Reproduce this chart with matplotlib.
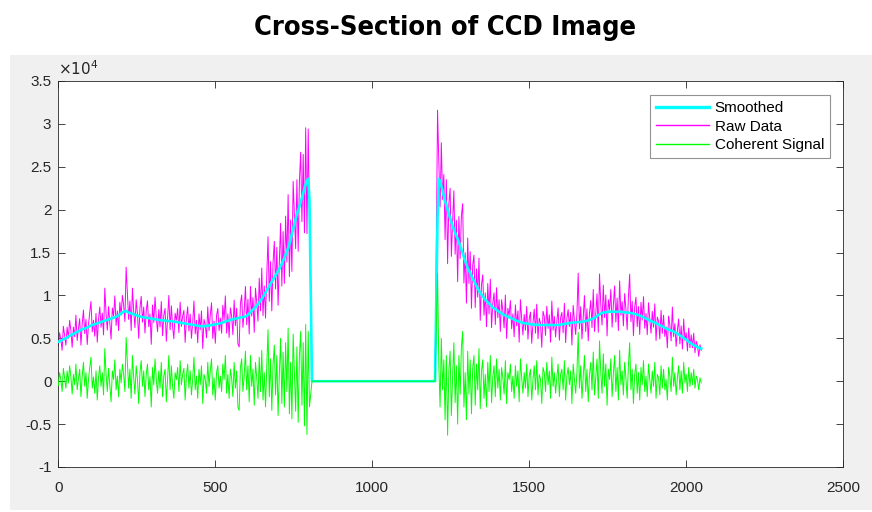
# Corte transversal de una imagen CCD
# Datos leidos a ojo del grafico original (unidades de 1e4 cuentas)

import numpy as np
import matplotlib
matplotlib.use('Agg')  # Sin ventanas
import matplotlib.pyplot as plt
from matplotlib.patches import Rectangle


COLORES = {
    'suavizado': '#00FFFF',   # Cian
    'crudo': '#FF00FF',       # Magenta
    'coherente': '#00FF00',   # Verde
    'texto': '#262626',
    'fondo': '#F0F0F0',
}

# Posiciones de pixel del sensor
muestras_izq = np.arange(0, 801, 4)
muestras_hueco = [808, 1200]
muestras_der = np.arange(1208, 2049, 4)

# Curva suavizada, lado izquierdo (x = 0..800)
suavizado_izq = [
    0.46, 0.465, 0.47, 0.48, 0.49, 0.495, 0.50, 0.51, 0.52, 0.53,
    0.54, 0.545, 0.55, 0.56, 0.57, 0.575, 0.58, 0.59, 0.60, 0.605,
    0.61, 0.615, 0.62, 0.628, 0.635, 0.642, 0.65, 0.655, 0.66, 0.665,
    0.67, 0.675, 0.68, 0.685, 0.69, 0.695, 0.70, 0.705, 0.71, 0.715,
    0.72, 0.725, 0.73, 0.735, 0.74, 0.745, 0.75, 0.76, 0.77, 0.78,
    0.79, 0.80, 0.81, 0.815, 0.82, 0.81, 0.80, 0.795, 0.79, 0.785,
    0.78, 0.775, 0.77, 0.765, 0.76, 0.755, 0.75, 0.748, 0.745, 0.742,
    0.74, 0.738, 0.735, 0.732, 0.73, 0.728, 0.725, 0.722, 0.72, 0.718,
    0.715, 0.712, 0.71, 0.71, 0.71, 0.708, 0.705, 0.702, 0.70, 0.70,
    0.70, 0.698, 0.695, 0.692, 0.69, 0.688, 0.685, 0.682, 0.68, 0.678,
    0.675, 0.672, 0.67, 0.668, 0.665, 0.662, 0.66, 0.658, 0.655, 0.652,
    0.65, 0.648, 0.645, 0.642, 0.64, 0.64, 0.64, 0.642, 0.645, 0.648,
    0.65, 0.652, 0.655, 0.658, 0.66, 0.662, 0.665, 0.668, 0.67, 0.675,
    0.68, 0.685, 0.69, 0.695, 0.70, 0.705, 0.71, 0.715, 0.72, 0.722,
    0.725, 0.728, 0.73, 0.735, 0.74, 0.742, 0.745, 0.748, 0.75, 0.755,
    0.76, 0.775, 0.79, 0.805, 0.82, 0.835, 0.85, 0.865, 0.88, 0.90,
    0.92, 0.94, 0.96, 0.985, 1.01, 1.035, 1.06, 1.085, 1.11, 1.135,
    1.16, 1.185, 1.21, 1.235, 1.26, 1.285, 1.31, 1.34, 1.37, 1.405,
    1.44, 1.475, 1.51, 1.555, 1.60, 1.66, 1.72, 1.78, 1.84, 1.895,
    1.95, 1.995, 2.04, 2.09, 2.14, 2.195, 2.25, 2.295, 2.34, 2.36,
    2.12,
]

# Senal coherente (verde), lado izquierdo
coherente_izq = [
    -0.05, 0.10, 0.02, -0.12, 0.15, 0.04, -0.08, 0.12, -0.02, 0.18,
    0.05, -0.15, 0.08, -0.04, 0.20, -0.10, 0.03, 0.14, -0.18, 0.06,
    0.22, -0.06, 0.10, -0.20, 0.02, 0.16, 0.28, -0.08, 0.05, -0.14,
    0.12, -0.22, 0.04, 0.18, -0.06, 0.10, -0.16, 0.38, 0.08, -0.12,
    0.15, -0.05, -0.24, 0.12, 0.02, 0.25, -0.10, 0.06, -0.18, 0.14,
    -0.02, 0.20, 0.08, -0.12, 0.51, 0.22, -0.08, 0.14, -0.20, 0.30,
    0.04, -0.15, 0.18, 0.02, -0.26, 0.10, 0.24, -0.06, 0.12, -0.18,
    0.08, 0.20, -0.10, 0.05, -0.30, 0.16, -0.04, 0.26, 0.02, -0.14,
    0.12, -0.08, 0.22, -0.18, 0.06, 0.14, -0.24, 0.04, 0.30, -0.10,
    0.18, -0.06, -0.20, 0.10, 0.02, 0.16, -0.12, 0.24, -0.04, 0.08,
    0.15, -0.22, 0.06, 0.20, -0.08, 0.12, -0.16, 0.02, 0.28, -0.10,
    0.06, -0.20, 0.14, -0.04, 0.18, -0.26, 0.08, 0.02, -0.14, 0.22,
    -0.06, 0.12, 0.26, -0.16, 0.04, -0.22, 0.10, 0.18, -0.08, 0.06,
    -0.12, 0.20, 0.02, 0.30, -0.14, 0.08, -0.20, 0.14, 0.04, -0.18,
    0.22, -0.08, 0.12, -0.30, -0.34, 0.16, 0.26, -0.12, 0.06, 0.35,
    -0.10, 0.18, -0.24, 0.30, -0.06, 0.14, -0.28, 0.22, 0.04, -0.20,
    0.28, -0.12, 0.36, -0.22, 0.10, -0.30, 0.18, 0.60, -0.18, 0.26,
    -0.34, 0.20, 0.42, -0.16, 0.30, -0.40, 0.08, 0.50, -0.26, 0.34,
    -0.30, 0.45, -0.12, 0.62, -0.38, 0.22, -0.44, 0.55, 0.10, -0.35,
    0.40, -0.48, 0.30, 0.58, -0.28, 0.45, -0.52, 0.66, -0.62, 0.58,
    -0.30,
]

# Zona tapada del sensor (todo a cero)
valores_hueco = [0.0, 0.0]

# Curva suavizada, lado derecho (x = 1208..2048)
suavizado_der = [
    1.90, 2.36, 2.33, 2.28, 2.22, 2.16, 2.10, 2.05, 2.00, 1.95,
    1.90, 1.855, 1.81, 1.77, 1.73, 1.695, 1.66, 1.62, 1.58, 1.535,
    1.49, 1.445, 1.40, 1.36, 1.32, 1.29, 1.26, 1.23, 1.20, 1.17,
    1.14, 1.11, 1.08, 1.055, 1.03, 1.01, 0.99, 0.97, 0.95, 0.935,
    0.92, 0.905, 0.89, 0.875, 0.86, 0.85, 0.84, 0.83, 0.82, 0.81,
    0.80, 0.79, 0.78, 0.772, 0.765, 0.758, 0.75, 0.745, 0.74, 0.732,
    0.725, 0.718, 0.71, 0.705, 0.70, 0.695, 0.69, 0.685, 0.68, 0.678,
    0.675, 0.672, 0.67, 0.668, 0.665, 0.662, 0.66, 0.66, 0.66, 0.658,
    0.655, 0.655, 0.655, 0.655, 0.655, 0.655, 0.655, 0.655, 0.655, 0.655,
    0.655, 0.655, 0.655, 0.655, 0.655, 0.655, 0.655, 0.658, 0.66, 0.662,
    0.665, 0.668, 0.67, 0.672, 0.675, 0.678, 0.68, 0.682, 0.685, 0.685,
    0.685, 0.688, 0.69, 0.69, 0.69, 0.692, 0.695, 0.698, 0.70, 0.705,
    0.71, 0.715, 0.72, 0.725, 0.73, 0.74, 0.75, 0.76, 0.77, 0.78,
    0.79, 0.795, 0.80, 0.802, 0.805, 0.808, 0.81, 0.81, 0.81, 0.81,
    0.81, 0.81, 0.81, 0.81, 0.81, 0.81, 0.81, 0.808, 0.805, 0.802,
    0.80, 0.80, 0.80, 0.798, 0.795, 0.792, 0.79, 0.785, 0.78, 0.775,
    0.77, 0.765, 0.76, 0.752, 0.745, 0.738, 0.73, 0.722, 0.715, 0.708,
    0.70, 0.695, 0.69, 0.682, 0.675, 0.668, 0.66, 0.652, 0.645, 0.638,
    0.63, 0.622, 0.615, 0.608, 0.60, 0.595, 0.59, 0.585, 0.58, 0.572,
    0.565, 0.555, 0.545, 0.535, 0.525, 0.515, 0.505, 0.495, 0.485, 0.472,
    0.46, 0.45, 0.44, 0.43, 0.42, 0.412, 0.405, 0.398, 0.39, 0.385,
    0.38,
]

# Senal coherente (verde), lado derecho
coherente_der = [
    1.26, 0.20, -0.30, 0.50, -0.10, 0.25, -0.45, 0.30, -0.63, 0.12,
    0.35, -0.40, 0.05, 0.45, -0.25, 0.18, -0.50, 0.30, -0.15, 0.40,
    0.58, -0.30, 0.10, -0.45, 0.35, -0.15, 0.25, -0.38, 0.15, 0.30,
    -0.28, 0.20, -0.10, 0.38, -0.32, 0.12, 0.25, -0.20, 0.08, -0.30,
    0.22, -0.12, 0.30, -0.25, 0.05, 0.18, -0.18, 0.26, -0.08, 0.14,
    -0.22, 0.16, 0.04, -0.15, 0.24, -0.26, 0.10, 0.02, 0.20, -0.12,
    0.06, -0.20, 0.18, -0.06, 0.12, -0.24, 0.26, 0.04, -0.14, 0.10,
    -0.08, 0.20, -0.18, 0.06, 0.14, -0.22, 0.02, 0.18, -0.10, 0.24,
    -0.16, 0.08, 0.02, -0.26, 0.16, 0.10, -0.12, 0.22, -0.04, 0.12,
    -0.20, 0.28, -0.06, 0.10, -0.14, 0.04, 0.20, -0.18, 0.08, 0.14,
    -0.10, 0.24, -0.22, 0.06, 0.16, -0.04, 0.12, -0.26, 0.20, 0.02,
    -0.14, 0.10, 0.57, -0.08, 0.18, -0.20, 0.06, 0.30, -0.12, 0.14,
    -0.24, 0.08, 0.22, -0.10, 0.34, -0.16, 0.04, 0.26, -0.20, 0.47,
    0.10, -0.14, 0.32, -0.06, 0.20, -0.28, 0.14, 0.02, 0.26, -0.18,
    0.08, 0.30, -0.12, 0.16, -0.22, 0.36, -0.04, 0.12, -0.16, 0.22,
    0.04, -0.20, 0.18, 0.45, -0.10, 0.14, -0.26, 0.08, 0.20, -0.14,
    0.10, -0.22, 0.16, -0.04, 0.24, -0.12, 0.06, -0.18, 0.20, 0.02,
    -0.14, 0.12, -0.06, 0.22, -0.20, 0.08, 0.04, -0.16, 0.18, -0.08,
    0.14, -0.10, 0.02, -0.22, 0.16, 0.06, -0.12, 0.28, -0.06, 0.10,
    -0.16, 0.04, 0.18, -0.10, 0.12, -0.14, 0.22, -0.02, 0.08, -0.12,
    0.16, -0.06, 0.10, -0.04, 0.14, -0.08, 0.06, 0.02, -0.10, 0.04,
    -0.02,
]

ticks_x = [0, 500, 1000, 1500, 2000, 2500]
ticks_y = [-1, -0.5, 0, 0.5, 1, 1.5, 2, 2.5, 3, 3.5]
etiquetas_y = ['-1', '-0.5', '0', '0.5', '1', '1.5', '2', '2.5', '3', '3.5']

# Unir las tres zonas
x = np.concatenate([muestras_izq, muestras_hueco, muestras_der])
suavizado = np.concatenate([suavizado_izq, valores_hueco, suavizado_der])
coherente = np.concatenate([coherente_izq, valores_hueco, coherente_der])
crudo = suavizado + coherente  # dato crudo = tendencia + parte coherente

plt.rcParams['font.family'] = ['Liberation Sans', 'DejaVu Sans']

fig = plt.figure(figsize=(8.72, 5.12), dpi=100, facecolor='white')

# Fondo gris estilo MATLAB (detras de los ejes)
fig.patches.append(Rectangle((10 / 872, 2 / 512), 862 / 872, 455 / 512,
                             transform=fig.transFigure, facecolor=COLORES['fondo'],
                             edgecolor='none', zorder=-5))

ax = fig.add_axes([0.0669, 0.0879, 0.9, 0.7539])
ax.set_zorder(2)
ax.set_facecolor('white')

linea_s, = ax.plot(x, suavizado, color=COLORES['suavizado'], lw=1.9, zorder=3, label='Smoothed')
linea_c, = ax.plot(x, crudo, color=COLORES['crudo'], lw=0.7, zorder=2, label='Raw Data')
linea_g, = ax.plot(x, coherente, color=COLORES['coherente'], lw=0.7, zorder=4, label='Coherent Signal')

ax.set_xlim(0, 2500)
ax.set_ylim(-1, 3.5)
ax.set_xticks(ticks_x)
ax.set_yticks(ticks_y)
ax.set_yticklabels(etiquetas_y)

ax.tick_params(direction='in', length=5, width=0.6, colors=COLORES['texto'],
               labelsize=11, top=True, right=True)
ax.tick_params(axis='x', pad=10)
ax.tick_params(axis='y', pad=5)
for lado in ax.spines.values():
    lado.set_color(COLORES['texto'])
    lado.set_linewidth(0.6)

# Exponente de la escala
ax.text(0.0, 1.008, r'$\times 10^{4}$', transform=ax.transAxes, fontsize=11,
        color=COLORES['texto'], ha='left', va='bottom')

leyenda = ax.legend(handles=[linea_s, linea_c, linea_g], loc='upper right',
                    bbox_to_anchor=(0.9834, 0.9637), fontsize=11, frameon=True,
                    fancybox=False, handlelength=3.5, borderpad=0.4,
                    labelspacing=0.3, handletextpad=0.35, borderaxespad=0)
leyenda.get_frame().set_edgecolor('#777777')
leyenda.get_frame().set_linewidth(0.8)
leyenda.get_lines()[0].set_linewidth(2.4)
leyenda.get_lines()[1].set_linewidth(1.0)
leyenda.get_lines()[2].set_linewidth(1.0)

fig.text(0.51, 1 - 28 / 512, 'Cross-Section of CCD Image', ha='center', va='center',
         fontsize=19.5, fontweight='bold', fontstretch='condensed', family='DejaVu Sans')

fig.savefig('out.png', dpi=100, facecolor='white')
plt.close(fig)
